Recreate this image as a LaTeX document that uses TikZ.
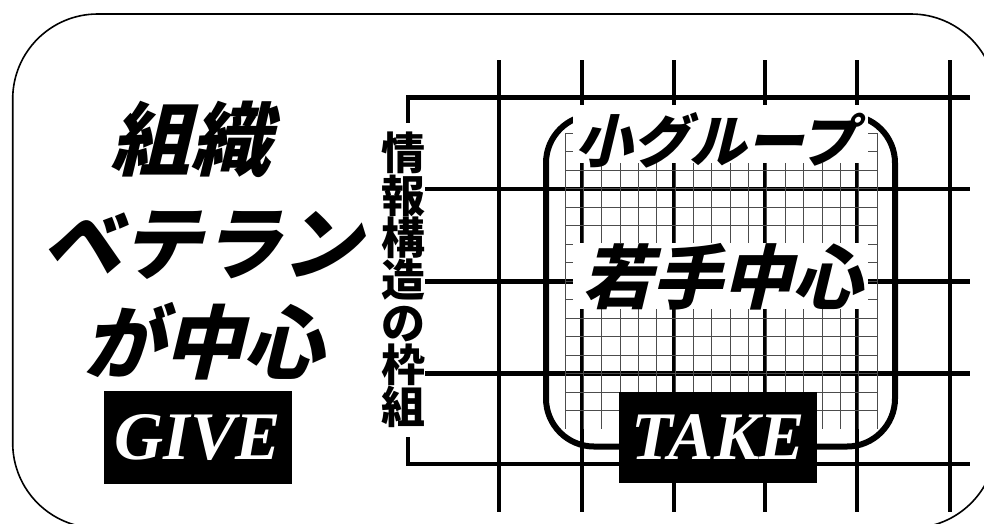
\documentclass[tikz,border=0pt]{standalone}
\usepackage{fontspec}
\newfontfamily\jpslant[FakeSlant=0.24]{Noto Sans CJK JP}
\newfontfamily\jpup{Noto Sans CJK JP}
\newfontfamily\tms{Liberation Serif}
\begin{document}
\begin{tikzpicture}[x=1pt,y=-1pt,
  thickline/.style={line width=4.6pt, black},
  fineline/.style={line width=0.9pt, black!70},
  whitebox/.style={fill=white, draw=none},
  blackbox/.style={fill=black, draw=none, inner sep=0pt},
  bigjp/.style={font={\jpslant\bfseries\fontsize{80}{80}\selectfont}, inner sep=0pt},
  midjp/.style={inner sep=0pt},
  latin/.style={text=white, font={\tms\bfseries\itshape\fontsize{68}{68}\selectfont}, inner sep=0pt}]
\useasboundingbox (0,0) rectangle (984,523);
\clip (0,0) rectangle (984,523);
% outer frame
\draw[line width=1.6pt, rounded corners=85pt] (12.7,14) rectangle (996,528);
% coarse grid (information structure)
\foreach \x in {499,582,674,765,857,950} \draw[thickline] (\x,60) -- (\x,512);
\draw[thickline] (408,97.5) -- (970,97.5);
\draw[thickline] (408,464) -- (970,464);
\foreach \y in {189,281.7,373.3} \draw[thickline] (425,\y) -- (970,\y);
\coordinate (bt1) at (408,95.2);
\coordinate (bt2) at (408,123);
\coordinate (bb1) at (408,437);
\coordinate (bb2) at (408,466.3);
\draw[thickline] (bt1) -- (bt2);
\draw[thickline] (bb1) -- (bb2);
% fine grid (small group)
\foreach \i in {0,...,17} \draw[fineline] ({565+18.353*\i},133.3) -- ({565+18.353*\i},429.3);
\foreach \j in {0,...,15} \draw[fineline] (565,{133.3+18.5*\j}) -- (877,{133.3+18.5*\j});
% small group frame
\draw[line width=6pt, rounded corners=48pt] (546,115) rectangle (895,446.5);
% white label areas
\fill[whitebox] (573,105) rectangle (868,163);
\fill[whitebox] (573,243) rectangle (868,309);
% left texts
\node[bigjp] (soshiki) at (190,139) {組織};
\node[bigjp] (veteran) at (201,245) {ベテラン};
\node[bigjp] (chushin) at (203,341) {が中心};
\node[blackbox, minimum width=188pt, minimum height=93pt] (givebox) at (198,437.5) {};
\node[latin] (give) at (givebox.center) {GIVE};
% vertical text
\node[inner sep=0pt, align=center, font={\jpup\bfseries\fontsize{44}{42.3}\selectfont}] (waku) at (403,280) {情\\報\\構\\造\\の\\枠\\組};
% right texts
\node[midjp, font={\jpslant\bfseries\fontsize{57}{57}\selectfont}] (shogroup) at (716,140) {小グループ};
\node[midjp, font={\jpslant\bfseries\fontsize{70}{70}\selectfont}] (wakate) at (722,277) {若手中心};
\node[blackbox, minimum width=198pt, minimum height=91pt] (takebox) at (718,437.5) {};
\node[latin] (take) at (takebox.center) {TAKE};
\end{tikzpicture}
\end{document}
